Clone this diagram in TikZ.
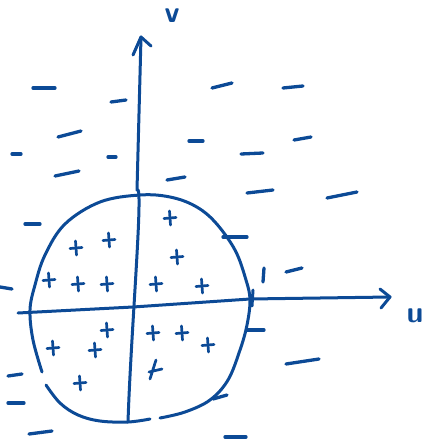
\documentclass[tikz,border=0pt]{standalone}
\usetikzlibrary{arrows.meta}
\definecolor{ink}{RGB}{12,74,150}
\begin{document}
\begin{tikzpicture}[x=1pt,y=-1pt,
  stroke/.style={draw=ink,line width=3pt,line cap=round,line join=round},
  dashmark/.style={draw=ink,line width=3.3pt,line cap=round},
  plusm/.pic={\draw[ink,line width=2.7pt,line cap=round] (-6,0.5)--(6,-0.5) (-0.5,-7)--(0.5,7);},
  lbl/.style={text=ink,font=\sffamily\bfseries\fontsize{30}{30}\selectfont,inner sep=0pt}]
\useasboundingbox (0,0) rectangle (425,444);
% circle
\draw[stroke] plot[smooth,tension=0.6] coordinates {(42,372) (33,340) (30,310) (35,285) (45,255) (65,224) (100,202) (140,195) (170,197) (195,206) (215,222) (235,250) (246,280) (250,300) (247,325) (240,350) (228,380) (210,400) (185,412) (160,418)};
\draw[stroke] plot[smooth,tension=0.6] coordinates {(150,419) (128,422) (100,421) (78,415) (60,403) (46,385)};
\draw[stroke] (253,290)--(252,306);
% axes
\coordinate (u0) at (18,313);
\coordinate (uc) at (133,307);
\coordinate (ur) at (250,299);
\coordinate (u1) at (390,297);
\coordinate (v0) at (128,422);
\coordinate (vc) at (133,307);
\coordinate (vm) at (137,190);
\coordinate (v1) at (141,37);
\draw[stroke] (u0) -- (uc) -- (ur) -- (u1);
\draw[stroke] (380,289) -- (u1) -- (381,308);
\draw[stroke] (v0) .. controls (131,330) and (144,180) .. (vm) -- (v1);
\draw[stroke] (133,55) -- (v1) -- (151,46);
\node[lbl] (u) at (415,316) {u};
\node[lbl] (v) at (172,16) {v};
% pluses
\foreach \p in {(76,248),(109,240),(49,280),(78,284),(107,284),(156,284),(177,257),(202,286),(170,218),(107,330),(53,348),(95,350),(153,333),(182,333),(208,345),(80,383)}
  \pic at \p {plusm};
\draw[ink,line width=2.7pt,line cap=round] (150,379)--(156,360) (149,372)--(162,369);
% minuses
\foreach \a/\b in {{(33,88)}/{(55,88)},{(111,102)}/{(126,100)},{(212,88)}/{(232,83)},{(283,88)}/{(303,86)},{(58,137)}/{(81,131)},{(12,154)}/{(21,154)},{(108,157)}/{(116,157)},{(189,141)}/{(203,141)},{(241,154)}/{(263,153)},{(294,140)}/{(311,137)},{(55,176)}/{(79,171)},{(167,180)}/{(185,177)},{(247,193)}/{(273,190)},{(327,198)}/{(357,192)},{(25,224)}/{(40,224)},{(223,237)}/{(247,237)},{(0,287)}/{(12,289)},{(286,272)}/{(302,268)},{(247,330)}/{(264,330)},{(286,364)}/{(319,359)},{(8,376)}/{(22,374)},{(8,403)}/{(24,403)},{(213,399)}/{(227,395)},{(29,434)}/{(52,431)},{(225,437)}/{(246,437)}}
  \draw[dashmark] \a -- \b;
\draw[dashmark] (264,268)--(263,282);
\end{tikzpicture}
\end{document}
